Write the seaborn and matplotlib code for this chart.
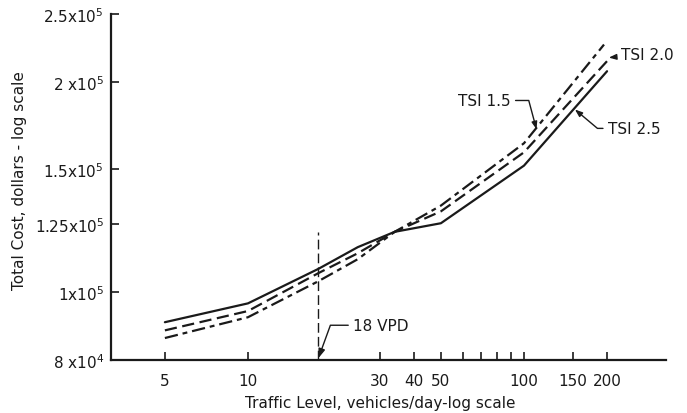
import matplotlib
matplotlib.use("Agg")
import matplotlib.pyplot as plt
from matplotlib.ticker import FixedLocator, NullLocator, FixedFormatter
import seaborn as sns
import pandas as pd

# ---- data ----
traffic = [5, 10, 18, 25, 34, 50, 100, 200]
tsi_25 = [90600, 96400, 108000, 116000, 122000, 125500, 151700, 207000]
tsi_20 = [88200, 94000, 106500, 113700, 122000, 130500, 158500, 214000]
traffic_15 = [5, 10, 18, 25, 34, 50, 100, 195]
tsi_15 = [86000, 92100, 103700, 111500, 122000, 133000, 163300, 226000]

series_names = ["TSI 2.5", "TSI 2.0", "TSI 1.5"]

xtick_vals = [5, 10, 30, 40, 50, 60, 70, 80, 90, 100, 150, 200]
xtick_labels = ["5", "10", "30", "40", "50", "", "", "", "", "100", "150", "200"]
ytick_vals = [80000, 100000, 125000, 150000, 200000, 250000]
ytick_labels = ["8 x10$^4$", "1x10$^5$", "1.25x10$^5$", "1.5x10$^5$", "2 x10$^5$", "2.5x10$^5$"]

vpd = 18
vpd_top = 121800

rows = []
for name, xs, ys in [("TSI 2.5", traffic, tsi_25), ("TSI 2.0", traffic, tsi_20),
                     ("TSI 1.5", traffic_15, tsi_15)]:
    for x, y in zip(xs, ys):
        rows.append({"traffic": x, "cost": y, "tsi": name})
df = pd.DataFrame(rows)

sns.set_style("ticks")
plt.rcParams["font.family"] = ["DejaVu Sans"]
ink = "#1a1a1a"
fs = 11

fig = plt.figure(figsize=(6.87, 4.14), dpi=100)
ax = fig.add_axes([0.1616, 0.128, 0.8078, 0.836])

sns.lineplot(data=df, x="traffic", y="cost", style="tsi", style_order=series_names,
             dashes={"TSI 2.5": "", "TSI 2.0": (5.5, 2.5), "TSI 1.5": (6, 2.2, 2.2, 2.2)},
             color=ink, linewidth=1.6, legend=False, ax=ax, sort=False, estimator=None)

ax.set_xscale("log")
ax.set_yscale("log")
ax.set_xlim(3.19, 327)
ax.set_ylim(80000, 250000)

ax.xaxis.set_major_locator(FixedLocator(xtick_vals))
ax.xaxis.set_major_formatter(FixedFormatter(xtick_labels))
ax.xaxis.set_minor_locator(NullLocator())
ax.yaxis.set_major_locator(FixedLocator(ytick_vals))
ax.yaxis.set_major_formatter(FixedFormatter(ytick_labels))
ax.yaxis.set_minor_locator(NullLocator())

ax.tick_params(axis="x", direction="in", length=6, width=1.2, pad=9, labelsize=fs, colors=ink)
ax.tick_params(axis="y", direction="in", length=6, width=1.2, pad=5, labelsize=fs, colors=ink)
for s in ["top", "right"]:
    ax.spines[s].set_visible(False)
for s in ["left", "bottom"]:
    ax.spines[s].set_linewidth(1.6)
    ax.spines[s].set_color(ink)

ax.set_xlabel("Traffic Level, vehicles/day-log scale", fontsize=fs, color=ink)
ax.set_ylabel("Total Cost, dollars - log scale", fontsize=fs, color=ink)
ax.xaxis.set_label_coords(0.486, -0.10)
ax.yaxis.set_label_coords(-0.152, 0.52)

# 18 VPD line
ax.vlines(vpd, 80000, vpd_top, colors=ink, linewidth=1.0, linestyles=(0, (7, 3)))
ax.annotate("18 VPD", xy=(vpd, 80500), xytext=(24.0, 89700), fontsize=fs, color=ink,
            va="center", ha="left",
            arrowprops=dict(arrowstyle="-|>,head_length=0.5,head_width=0.18", color=ink, lw=1.0,
                            shrinkA=1, shrinkB=0,
                            connectionstyle="angle,angleA=180,angleB=70,rad=0"))

# series labels
ax.annotate("TSI 2.0", xy=(203, 216500), xytext=(224, 219000), fontsize=fs, color=ink,
            va="center", ha="left",
            arrowprops=dict(arrowstyle="-|>,head_length=0.4,head_width=0.15", color=ink, lw=1.0,
                            shrinkA=1, shrinkB=0))
ax.annotate("TSI 2.5", xy=(153, 182500), xytext=(201, 171500), fontsize=fs, color=ink,
            va="center", ha="left",
            arrowprops=dict(arrowstyle="-|>,head_length=0.4,head_width=0.15", color=ink, lw=1.0,
                            shrinkA=1, shrinkB=0,
                            connectionstyle="angle,angleA=180,angleB=-40,rad=0"))
ax.annotate("TSI 1.5", xy=(111, 171000), xytext=(72, 188000), fontsize=fs, color=ink,
            va="center", ha="center",
            arrowprops=dict(arrowstyle="-|>,head_length=0.4,head_width=0.15", color=ink, lw=1.0,
                            shrinkA=1, shrinkB=0,
                            connectionstyle="angle,angleA=0,angleB=-75,rad=0"))

fig.savefig("out.png", dpi=100, facecolor="white")
